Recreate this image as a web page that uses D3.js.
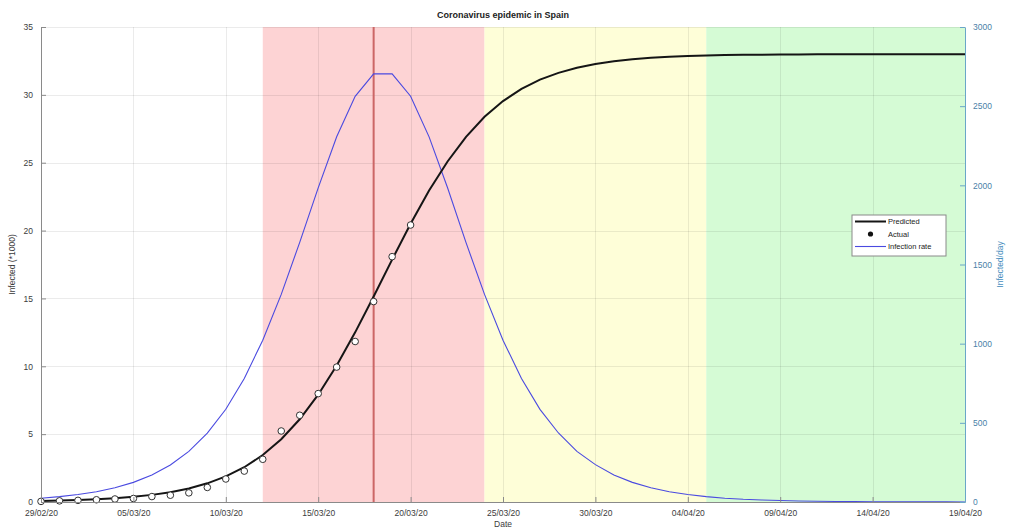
<!DOCTYPE html>
<html><head><meta charset="utf-8">
<script src="https://cdn.jsdelivr.net/npm/d3@7"></script>
<style>
body{margin:0;background:#fff;}
svg{display:block;font-family:"Liberation Sans",Arial,sans-serif;}
</style></head>
<body><svg id="c" width="1009" height="529"></svg>
<script>
// ---- data ----
const startDate = "2020-02-29";
const dayCount = 51; // 29/02/20 .. 19/04/20
const predicted = [0.074,0.102,0.142,0.197,0.273,0.379,0.525,0.726,1.001,1.376,1.883,2.562,3.458,4.621,6.094,7.906,10.055,12.50,15.14,17.86,20.50,22.95,25.09,26.91,28.38,29.54,30.44,31.12,31.62,32.00,32.27,32.48,32.62,32.73,32.80,32.86,32.90,32.93,32.95,32.96,32.97,32.98,32.99,32.99,33.00,33.00,33.00,33.00,33.00,33.00,33.00];
const infectionRate = [24,34,47,65,90,124,171,234,320,435,586,780,1022,1311,1640,1984,2307,2562,2704,2704,2563,2306,1985,1638,1311,1022,780,585,436,320,236,171,124,90,65,47,34,24,17,13,9,6.4,4.6,3.3,2.4,1.7,1.2,0.9,0.6,0.5,0.3];
const actual = [0.045,0.084,0.120,0.165,0.222,0.259,0.400,0.500,0.673,1.073,1.695,2.277,3.146,5.232,6.391,7.988,9.942,11.826,14.769,18.077,20.410];
const xTickLabels = ["29/02/20","05/03/20","10/03/20","15/03/20","20/03/20","25/03/20","30/03/20","04/04/20","09/04/20","14/04/20","19/04/20"];
const leftTicks = [0,5,10,15,20,25,30,35];
const rightTicks = [0,500,1000,1500,2000,2500,3000];
const phases = [
  {from:"12/03/20", to:"24/03/20", color:"#fdd3d4"},
  {from:"24/03/20", to:"05/04/20", color:"#fefed8"},
  {from:"05/04/20", to:"19/04/20", color:"#d5fbd5"}
];
const peakDate = "18/03/20";
const legendItems = ["Predicted","Actual","Infection rate"];

// ---- setup ----
const W=1009,H=529, m={l:41,r:44,t:27,b:27};
const svg=d3.select("#c");
const parse=d3.timeParse("%d/%m/%y");
const t0=d3.timeParse("%Y-%m-%d")(startDate);
const dayDate=i=>d3.timeDay.offset(t0,i);
const x=d3.scaleTime().domain([t0,dayDate(dayCount-1)]).range([m.l,W-m.r]);
const yL=d3.scaleLinear().domain([0,35]).range([H-m.b,m.t]);
const yR=d3.scaleLinear().domain([0,3000]).range([H-m.b,m.t]);

// phase backgrounds
svg.append("g").selectAll("rect").data(phases).join("rect")
  .attr("x",d=>x(parse(d.from))).attr("width",d=>x(parse(d.to))-x(parse(d.from)))
  .attr("y",m.t).attr("height",H-m.b-m.t).attr("fill",d=>d.color);

// grid
const xTickDates=xTickLabels.map(parse);
const grid=svg.append("g").attr("stroke","#000").attr("stroke-opacity",0.08).attr("stroke-width",1);
grid.selectAll("line.v").data(xTickDates).join("line").attr("class","v")
  .attr("x1",d=>Math.round(x(d))+0.5).attr("x2",d=>Math.round(x(d))+0.5).attr("y1",m.t).attr("y2",H-m.b);
grid.selectAll("line.h").data(leftTicks).join("line").attr("class","h")
  .attr("y1",d=>Math.round(yL(d))+0.5).attr("y2",d=>Math.round(yL(d))+0.5).attr("x1",m.l).attr("x2",W-m.r);

// peak line
svg.append("line").attr("x1",x(parse(peakDate))).attr("x2",x(parse(peakDate)))
  .attr("y1",m.t).attr("y2",H-m.b).attr("stroke","#cc6666").attr("stroke-width",2);

// infection rate (right axis)
const days=d3.range(dayCount);
svg.append("path").datum(days).attr("fill","none").attr("stroke","#4a4ae0").attr("stroke-width",1.1)
  .attr("d",d3.line().x(i=>x(dayDate(i))).y(i=>yR(infectionRate[i])));

// predicted
svg.append("path").datum(days).attr("fill","none").attr("stroke","#151515").attr("stroke-width",2)
  .attr("d",d3.line().x(i=>x(dayDate(i))).y(i=>yL(predicted[i])));

// actual
svg.append("g").selectAll("circle").data(actual).join("circle")
  .attr("cx",(d,i)=>x(dayDate(i))).attr("cy",d=>yL(d)).attr("r",3.3)
  .attr("fill","#fff").attr("stroke","#333").attr("stroke-width",1);

// axes
const fmt=d3.timeFormat("%d/%m/%y");
const gx=svg.append("g").attr("transform",`translate(0,${H-m.b})`)
  .call(d3.axisBottom(x).tickValues(xTickDates).tickFormat(fmt).tickSizeInner(-5).tickSizeOuter(0).tickPadding(8));
const gl=svg.append("g").attr("transform",`translate(${m.l},0)`)
  .call(d3.axisLeft(yL).tickValues(leftTicks).tickFormat(d3.format("d")).tickSizeInner(-5).tickSizeOuter(0).tickPadding(8));
const gr=svg.append("g").attr("transform",`translate(${W-m.r},0)`)
  .call(d3.axisRight(yR).tickValues(rightTicks).tickFormat(d3.format("d")).tickSizeInner(-5).tickSizeOuter(0).tickPadding(8));
[gx,gl].forEach(g=>{g.selectAll("path,line").attr("stroke","#8a8a8a");g.selectAll("text").attr("fill","#3c3c3c").attr("font-size",8.5);});
gr.selectAll("path,line").attr("stroke","#6aa6c8");
gr.selectAll("text").attr("fill","#4a7fa8").attr("font-size",8.5);

// labels
svg.append("text").attr("x",(m.l+W-m.r)/2).attr("y",18).attr("text-anchor","middle")
  .attr("font-size",9).attr("font-weight","bold").attr("fill","#222").text("Coronavirus epidemic in Spain");
svg.append("text").attr("x",(m.l+W-m.r)/2).attr("y",527).attr("text-anchor","middle")
  .attr("font-size",8.5).attr("fill","#3c3c3c").text("Date");
svg.append("text").attr("transform",`translate(15,${(m.t+H-m.b)/2}) rotate(-90)`).attr("text-anchor","middle")
  .attr("font-size",8.5).attr("fill","#3c3c3c").text("Infected (*1000)");
svg.append("text").attr("transform",`translate(1003,${(m.t+H-m.b)/2}) rotate(-90)`).attr("text-anchor","middle")
  .attr("font-size",8.5).attr("fill","#4a8fc0").text("Infected/day");

// legend
const lg=svg.append("g").attr("transform","translate(852,215)");
lg.append("rect").attr("width",94).attr("height",41).attr("fill","#fff").attr("stroke","#8a8a8a").attr("stroke-width",1);
lg.selectAll("text").data(legendItems).join("text").attr("x",36).attr("y",(d,i)=>9+i*12.5)
  .attr("font-size",7.5).attr("fill","#222").text(d=>d);
lg.append("line").attr("x1",3).attr("x2",34).attr("y1",6.5).attr("y2",6.5).attr("stroke","#151515").attr("stroke-width",2);
lg.append("circle").attr("cx",18.5).attr("cy",19).attr("r",2.6).attr("fill","#111");
lg.append("line").attr("x1",3).attr("x2",34).attr("y1",31.5).attr("y2",31.5).attr("stroke","#4a4ae0").attr("stroke-width",1.1);
</script></body></html>
